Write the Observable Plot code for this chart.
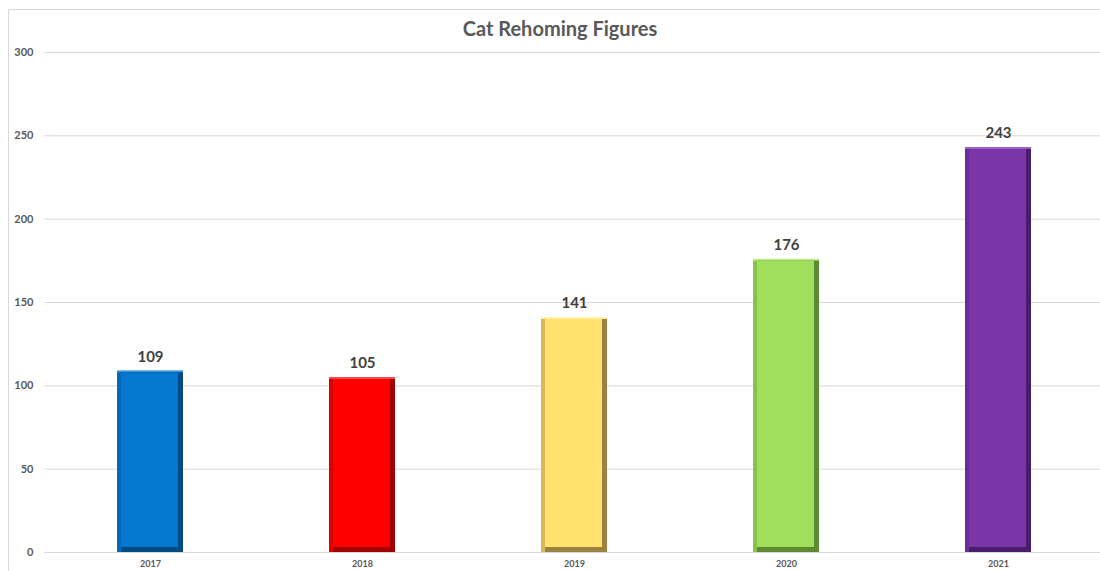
<!DOCTYPE html>
<html>
<head>
<meta charset="utf-8">
<script src="https://cdn.jsdelivr.net/npm/d3@7"></script>
<script src="https://cdn.jsdelivr.net/npm/@observablehq/plot@0.6"></script>
<style>
  html, body { margin: 0; padding: 0; background: #ffffff; }
  #wrap { position: relative; width: 1100px; height: 571px; overflow: hidden; }
  #frame { position: absolute; left: 8px; top: 9px; width: 1110px; height: 580px; border: 1px solid #d9d9d9; box-sizing: border-box; }
  #title { position: absolute; left: 0; top: 16px; width: 1120px; text-align: center;
           font-family: Lato, "Open Sans", sans-serif; font-weight: 700; font-size: 20px; color: #595959; }
  #chart { position: absolute; left: 0; top: 0; }
</style>
</head>
<body>
<div id="wrap">
  <div id="frame"></div>
  <div id="chart"></div>
  <div id="title">Cat Rehoming Figures</div>
</div>
<script>
const years = ["2017", "2018", "2019", "2020", "2021"];
const values = [109, 105, 141, 176, 243];
const yTicks = [0, 50, 100, 150, 200, 250, 300];

// palette per bar: [top highlight, left shade, right/bottom shade, face]
const topColors   = ["#3a95dc", "#ff4a4a", "#fff0a8", "#c0f090", "#9a60c4"];
const leftColors  = ["#0569b8", "#dc0000", "#d8b85c", "#86c24c", "#6a2c96"];
const darkColors  = ["#034a82", "#a30000", "#9c8140", "#5b8a30", "#4a1d6c"];
const faceColors  = ["#0677cf", "#ff0000", "#ffe36e", "#9fdf5b", "#7a35a8"];

const data = years.map((y, i) => ({year: y, value: values[i], i}));

const chart = Plot.plot({
  width: 1100,
  height: 571,
  marginTop: 52,
  marginBottom: 19,
  marginLeft: 44,
  marginRight: 0,
  style: {background: "transparent", overflow: "visible"},
  x: {domain: years, range: [44, 1104], paddingInner: 0.69, paddingOuter: 0.345, label: null},
  y: {domain: [0, 300], label: null},
  color: {type: "identity"},
  marks: [
    Plot.gridY(yTicks, {stroke: "#d9d9d9", strokeOpacity: 1}),
    Plot.barY(data, {x: "year", y: "value", fill: d => topColors[d.i]}),
    Plot.barY(data, {x: "year", y: "value", insetTop: 2, fill: d => leftColors[d.i]}),
    Plot.barY(data, {x: "year", y: "value", insetTop: 2, insetLeft: 4, fill: d => darkColors[d.i]}),
    Plot.barY(data, {x: "year", y: "value", insetTop: 2, insetLeft: 4, insetRight: 5, insetBottom: 5, fill: d => faceColors[d.i]}),
    Plot.text(data, {x: "year", y: "value", text: d => String(d.value), dy: -14,
      fontFamily: "Lato, 'Open Sans', sans-serif", fontWeight: 700, fontSize: 15, fill: "#404040"}),
    Plot.axisY({ticks: yTicks, tickSize: 0, tickPadding: 11, label: null,
      fontFamily: "Lato, 'Open Sans', sans-serif", fontWeight: 700, fontSize: 11, fill: "#595959"}),
    Plot.axisX({tickSize: 0, tickPadding: 8, label: null,
      fontFamily: "Lato, 'Open Sans', sans-serif", fontWeight: 700, fontSize: 9, fill: "#595959"})
  ]
});
document.getElementById("chart").appendChild(chart);
</script>
</body>
</html>
